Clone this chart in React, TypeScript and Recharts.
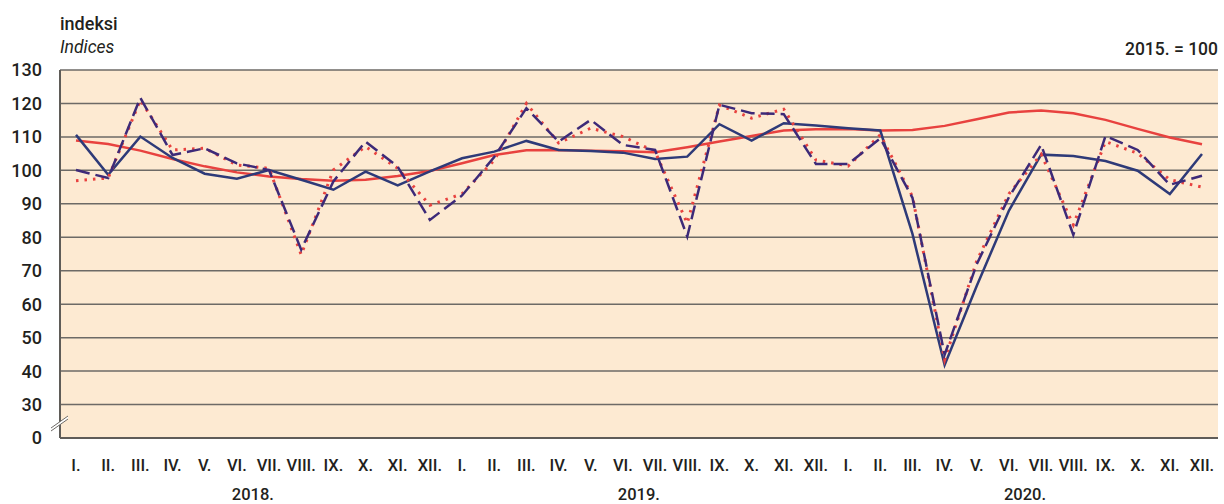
import { LineChart, Line, XAxis, YAxis, CartesianGrid } from 'recharts'

const years = ['2018.', '2019.', '2020.']
const months = ['I.', 'II.', 'III.', 'IV.', 'V.', 'VI.', 'VII.', 'VIII.', 'IX.', 'X.', 'XI.', 'XII.']

// trend (solid red)
const trend = [
  108.9, 107.9, 105.9, 103.4, 101.2, 99.4, 98.2, 97.4, 96.9, 97.2, 98.3, 99.8,
  102.1, 104.6, 106.0, 106.1, 105.9, 105.7, 105.4, 106.9, 108.6, 110.3, 111.9, 112.3,
  112.4, 111.9, 112.1, 113.3, 115.3, 117.3, 117.9, 117.1, 115.1, 112.4, 109.8, 107.8,
]
// seasonally adjusted (solid navy)
const adjusted = [
  110.6, 98.7, 110.1, 103.7, 99.0, 97.5, 100.1, 97.2, 94.2, 99.6, 95.5, 99.7,
  103.6, 105.6, 108.8, 106.1, 105.8, 105.3, 103.4, 104.1, 113.8, 108.9, 114.1, 113.4,
  112.6, 111.9, 81.0, 41.8, 65.5, 88.0, 104.7, 104.3, 102.8, 99.9, 92.9, 104.9,
]
// original (dashed purple)
const original = [
  100.1, 97.7, 121.7, 104.6, 106.6, 102.1, 100.1, 76.3, 96.7, 108.6, 101.1, 85.2,
  92.5, 104.0, 118.6, 108.6, 115.1, 107.6, 106.1, 80.2, 119.6, 117.1, 116.8, 101.9,
  101.9, 109.6, 91.8, 44.9, 72.0, 92.0, 107.6, 80.7, 110.3, 106.1, 95.7, 98.4,
]
// calendar adjusted (dotted red)
const calendar = [
  96.9, 97.7, 121.0, 106.1, 106.6, 101.6, 100.6, 74.8, 100.1, 107.1, 100.6, 89.6,
  93.0, 103.0, 120.0, 108.2, 112.6, 110.1, 105.6, 84.2, 119.5, 115.6, 118.3, 103.1,
  101.3, 110.6, 92.2, 43.4, 73.0, 93.0, 104.8, 83.7, 108.6, 105.1, 97.2, 95.0,
]

// 20 on the scale is shown as "0" (broken axis)
const yTicks = [20, 30, 40, 50, 60, 70, 80, 90, 100, 110, 120, 130]

const chartData = trend.map((t, i) => ({
  key: `${years[Math.floor(i / 12)]}-${months[i % 12]}`,
  trend: t,
  adjusted: adjusted[i],
  original: original[i],
  calendar: calendar[i],
}))

const FONT = "Roboto, 'Liberation Sans', Arial, sans-serif"
const TEXT = '#231f20'

function MonthTick(props: any) {
  const { x, y, index } = props
  const m = index % 12
  return (
    <g>
      <text x={x} y={y + 31} textAnchor="middle" fontFamily={FONT} fontSize={16.5} fontWeight={500} fill={TEXT}>
        {months[m]}
      </text>
      {m === 5 && (
        <text x={x + 16} y={y + 60} textAnchor="middle" fontFamily={FONT} fontSize={16.5} fontWeight={500} fill={TEXT}>
          {years[Math.floor(index / 12)]}
        </text>
      )}
    </g>
  )
}

function ValueTick(props: any) {
  const { x, y, payload } = props
  const isBase = payload.value === 20
  const ax = x + 18
  return (
    <g>
      <text x={x} y={y} dy="0.36em" textAnchor="end" fontFamily={FONT} fontSize={18} fontWeight={500} fill={TEXT}>
        {isBase ? '0' : payload.value}
      </text>
      {isBase && (
        <g>
          <polygon points={`${ax - 9},${y - 10} ${ax + 8},${y - 22} ${ax + 8},${y - 19} ${ax - 9},${y - 7}`} fill="#ffffff" />
          <line x1={ax - 9} y1={y - 10} x2={ax + 8} y2={y - 22} stroke="#6d6a66" strokeWidth={1} />
          <line x1={ax - 9} y1={y - 7} x2={ax + 8} y2={y - 19} stroke="#6d6a66" strokeWidth={1} />
        </g>
      )}
    </g>
  )
}

export default function App() {
  return (
    <div style={{ position: 'absolute', left: 0, top: 0, width: 1224, height: 504, background: '#fff' }}>
      <LineChart width={1224} height={504} data={chartData} margin={{ top: 70, right: 6, bottom: 0, left: 0 }}>
        <CartesianGrid vertical={false} stroke="#6d6a66" strokeWidth={1.5} fill="#fdead2" />
        <XAxis
          dataKey="key"
          height={66}
          interval={0}
          padding={{ left: 16, right: 16 }}
          tickLine={false}
          tickSize={0}
          axisLine={{ stroke: '#5f5c58', strokeWidth: 2 }}
          tick={<MonthTick />}
        />
        <YAxis
          width={60}
          domain={[20, 130]}
          ticks={yTicks}
          interval={0}
          tickLine={false}
          tickSize={0}
          tickMargin={18}
          axisLine={{ stroke: '#5f5c58', strokeWidth: 2 }}
          tick={<ValueTick />}
        />
        <Line type="linear" dataKey="trend" stroke="#e8423f" strokeWidth={2.5} dot={false} isAnimationActive={false} />
        <Line type="linear" dataKey="adjusted" stroke="#2e3a78" strokeWidth={2.5} dot={false} isAnimationActive={false} />
        <Line type="linear" dataKey="calendar" stroke="#e8423f" strokeWidth={3} strokeDasharray="2.5 6" dot={false} isAnimationActive={false} />
        <Line type="linear" dataKey="original" stroke="#3d2a78" strokeWidth={2.5} strokeDasharray="14 6" dot={false} isAnimationActive={false} />
      </LineChart>
      <svg width={1224} height={70} style={{ position: 'absolute', left: 0, top: 0, pointerEvents: 'none' }}>
        <text x={60} y={30} fontFamily={FONT} fontSize={18} fontWeight={500} fill={TEXT}>indeksi</text>
        <text x={60} y={53} fontFamily={FONT} fontSize={17.5} fontStyle="italic" fill={TEXT}>Indices</text>
        <text x={1218} y={55} textAnchor="end" fontFamily={FONT} fontSize={17.5} fontWeight={500} fill={TEXT}>2015. = 100</text>
      </svg>
    </div>
  )
}
